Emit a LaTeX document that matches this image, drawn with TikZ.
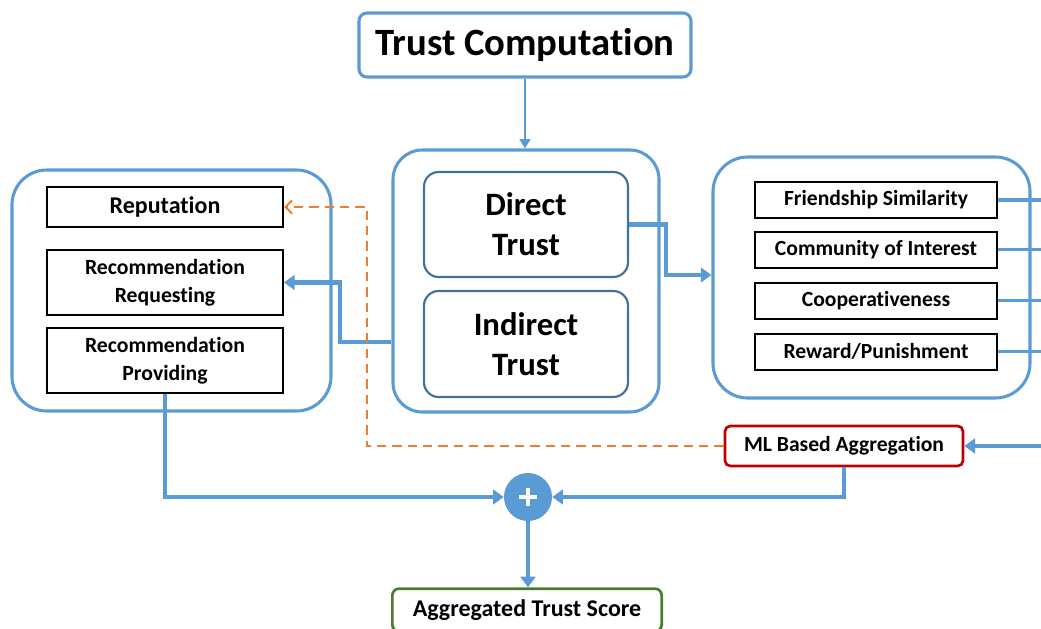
\documentclass[tikz,border=0pt]{standalone}
\usepackage{fontspec}
\setmainfont{Carlito}[RawFeature={-liga}]
\usetikzlibrary{arrows.meta,calc}
\definecolor{cblue}{HTML}{5B9BD5}
\definecolor{dblue}{HTML}{41719C}
\definecolor{corange}{HTML}{ED7D31}
\definecolor{cred}{HTML}{C00000}
\definecolor{cgreen}{HTML}{4E7A30}
\newcommand{\fs}[2]{\fontsize{#1}{#2}\selectfont\bfseries}
\begin{document}
\begin{tikzpicture}[x=0.75pt,y=-0.75pt,
  container/.style={draw=cblue, line width=2.3pt, rounded corners=24pt, fill=white, inner sep=0pt},
  trustbox/.style={draw=dblue, line width=1.6pt, rounded corners=11pt, fill=white, align=center, inner sep=0pt, font=\fs{24.5}{30}},
  itembox/.style={draw=black, line width=1.5pt, fill=white, align=center, inner sep=0pt, minimum width=177pt, font=\fs{16.3}{21}},
  factorbox/.style={draw=black, line width=1.5pt, fill=white, align=center, inner sep=0pt, minimum width=181.5pt, minimum height=27pt, font=\fs{16.2}{20}},
  flow/.style={draw=cblue, line width=3.2pt, -{Triangle[width=11pt,length=8pt]}},
  feed/.style={draw=cblue, line width=2.3pt},
  dashflow/.style={draw=corange, line width=1.5pt, dash pattern=on 7pt off 4.5pt, -{Straight Barb[width=10pt,length=5pt,line width=1.5pt]}}
]
\useasboundingbox (0,0) rectangle (1041,628);

% title
\node[draw=cblue, line width=2.3pt, rounded corners=6pt, fill=white, minimum width=249pt, minimum height=48pt, inner sep=0pt, font=\fs{29}{34}]
  (tc) at (525,45) {Trust Computation};

% middle block: direct and indirect trust
\node[container, rounded corners=22pt, minimum width=199.5pt, minimum height=196.5pt] (mid) at (526,281) {};
\node[trustbox, minimum width=153pt, minimum height=78.75pt] (dt) at (526,224.5) {Direct\\Trust};
\node[trustbox, minimum width=153pt, minimum height=79.5pt] (it) at (526,344) {Indirect\\Trust};

% left block: recommendations
\node[container, rounded corners=26pt, minimum width=239.25pt, minimum height=180.75pt] (lc) at (171.5,290.5) {};
\node[itembox, minimum height=30pt, font=\fs{18}{22}] (rep) at (165,207) {Reputation};
\node[itembox, minimum height=48.75pt] (rreq) at (165,282.5) {Recommendation\\Requesting};
\node[itembox, minimum height=48.75pt] (rprov) at (165,360.5) {Recommendation\\Providing};

% right block: social factors
\node[container, rounded corners=26pt, minimum width=237.75pt, minimum height=180.75pt] (rc) at (871.5,277.5) {};
\node[factorbox] (fsim) at (876,200) {Friendship Similarity};
\node[factorbox] (coi) at (876,249.5) {Community of Interest};
\node[factorbox] (coop) at (876,300.5) {Cooperativeness};
\node[factorbox] (rp) at (876,351.5) {Reward/Punishment};

% aggregation
\node[draw=cred, line width=2pt, rounded corners=4pt, fill=white, minimum width=178.5pt, minimum height=30pt, inner sep=0pt, font=\fs{16.2}{20}]
  (ml) at (844,446) {ML Based Aggregation};
\node[circle, fill=cblue, minimum size=36pt, inner sep=0pt,
  path picture={\draw[white, line width=3.6pt]
    ($(path picture bounding box.center)+(-6.5pt,0)$) -- ($(path picture bounding box.center)+(6.5pt,0)$)
    ($(path picture bounding box.center)+(0,-6.5pt)$) -- ($(path picture bounding box.center)+(0,6.5pt)$);}]
  (plus) at (528,497) {};
\node[draw=cgreen, line width=2pt, rounded corners=5pt, fill=white, minimum width=202pt, minimum height=32pt, inner sep=0pt, font=\fs{18}{22}]
  (ats) at (527,610) {Aggregated Trust Score};

% helper points
\coordinate (edge) at (1041,0);
\coordinate (dtk) at (666,275);
\coordinate (mk) at (340,342);
\coordinate (ok) at (367,446);

% connectors
\draw[draw=cblue, line width=1.8pt, -{Triangle[width=8pt,length=7pt]}] (tc.south) -- (tc.south |- mid.north);
\draw[flow] (dt.east) -| (dtk) -- (dtk -| rc.west);
\draw[flow] (mk -| mid.west) -- (mk) |- (rreq.east);
\draw[dashflow] (ml.west) -- (ok) |- (rep.east);
\draw[flow] (rprov.south) |- (plus.west);
\draw[flow] (ml.south) |- (plus.east);
\draw[flow] (plus.south) -- (plus.south |- ats.north);
\draw[flow] (ml.east -| edge) -- (ml.east);
\foreach \b in {fsim,coi,coop,rp}
  \draw[feed] (\b.east) -- (\b.east -| edge);
\end{tikzpicture}
\end{document}
